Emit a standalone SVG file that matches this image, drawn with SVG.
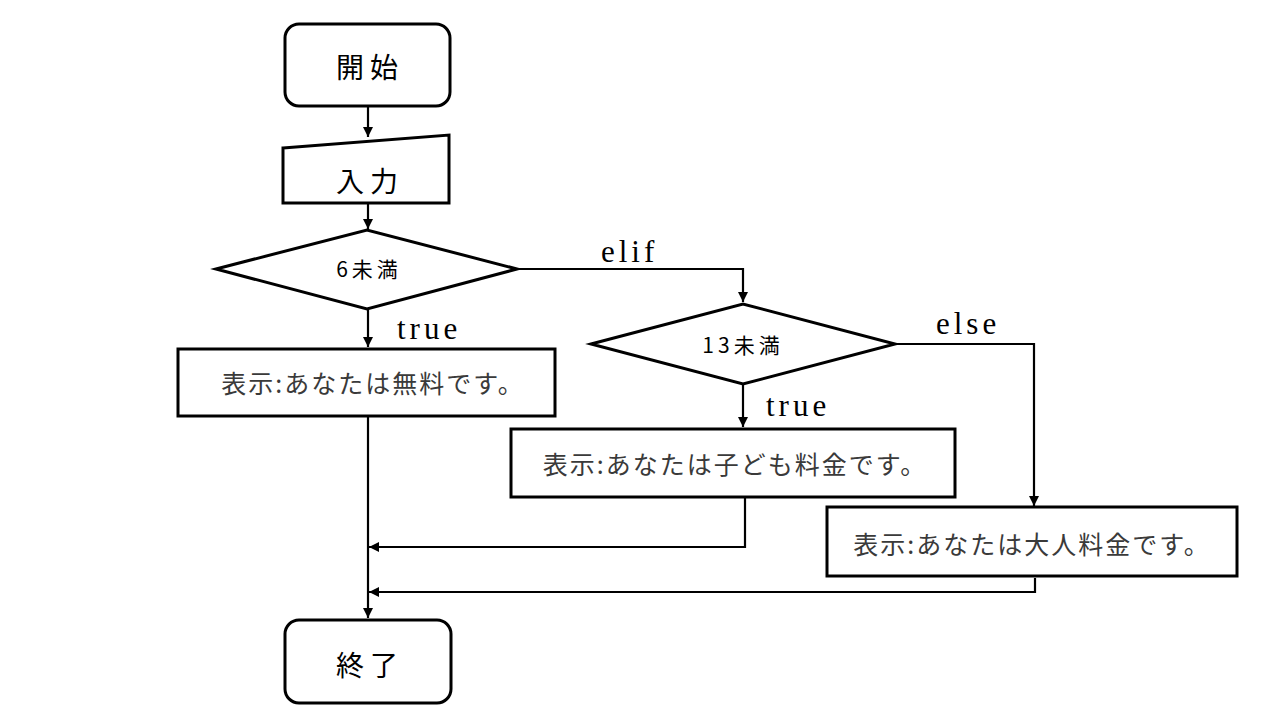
<svg xmlns="http://www.w3.org/2000/svg" width="1280" height="720" viewBox="0 0 1280 720">
<defs>
<marker id="ah" viewBox="0 0 10 10" refX="10" refY="5" markerWidth="10" markerHeight="10" markerUnits="userSpaceOnUse" orient="auto">
<path d="M0,0 L10,5 L0,10 z" fill="#000"/>
</marker>
<style>
.shape{fill:#fff;stroke:#000;stroke-width:3}
.conn{fill:none;stroke:#000;stroke-width:2.2}
.jp{font-family:"Noto Sans CJK JP",sans-serif;text-anchor:middle;dominant-baseline:central;fill:#000;font-size:28px;letter-spacing:6px}
.cond{font-family:"Noto Sans CJK JP",sans-serif;text-anchor:middle;dominant-baseline:central;fill:#000;font-size:21px;letter-spacing:4px}
.msg{font-family:"Noto Sans CJK JP",sans-serif;text-anchor:middle;dominant-baseline:central;fill:#3a3a3a;font-size:25px;letter-spacing:2px}
.lbl{font-family:"Liberation Serif",serif;font-size:31px;letter-spacing:4px;fill:#000}
</style>
</defs>
<rect width="1280" height="720" fill="#fff"/>
<g id="connectors">
<path class="conn" d="M368,107 V137" marker-end="url(#ah)"/>
<path class="conn" d="M368,204 V229" marker-end="url(#ah)"/>
<path class="conn" d="M368,310 V347" marker-end="url(#ah)"/>
<path class="conn" d="M517,269 H743 V302" marker-end="url(#ah)"/>
<path class="conn" d="M743,385 V427" marker-end="url(#ah)"/>
<path class="conn" d="M895,344 H1034 V506" marker-end="url(#ah)"/>
<path class="conn" d="M368,417 V618" marker-end="url(#ah)"/>
<path class="conn" d="M745,498 V547 H369" marker-end="url(#ah)"/>
<path class="conn" d="M1035,578 V592 H369" marker-end="url(#ah)"/>
<text class="lbl" x="397" y="339">true</text>
<text class="lbl" x="601" y="262">elif</text>
<text class="lbl" x="766" y="416">true</text>
<text class="lbl" x="936" y="334">else</text>
</g>
<g id="start">
<rect class="shape" x="285" y="24" width="165" height="82" rx="14"/>
<text class="jp" x="370" y="66">開始</text>
</g>
<g id="input">
<path class="shape" d="M283,148 L449,135 L449,203 L283,203 Z"/>
<text class="jp" x="370" y="180">入力</text>
</g>
<g id="cond1">
<path class="shape" d="M216,269 L367,230 L517,269 L367,309 Z"/>
<text class="cond" x="369" y="268">6未満</text>
</g>
<g id="free">
<rect class="shape" x="178" y="349" width="377" height="67"/>
<text class="msg" x="373" y="382">表示:あなたは無料です。</text>
</g>
<g id="cond2">
<path class="shape" d="M591,344 L743,304 L895,344 L743,384 Z"/>
<text class="cond" x="743" y="344">13未満</text>
</g>
<g id="child">
<rect class="shape" x="511" y="429" width="444" height="68"/>
<text class="msg" x="735" y="463">表示:あなたは子ども料金です。</text>
</g>
<g id="adult">
<rect class="shape" x="827" y="507" width="410" height="69"/>
<text class="msg" x="1032" y="543">表示:あなたは大人料金です。</text>
</g>
<g id="end">
<rect class="shape" x="285" y="620" width="166" height="83" rx="14"/>
<text class="jp" x="370" y="664">終了</text>
</g>
</svg>
